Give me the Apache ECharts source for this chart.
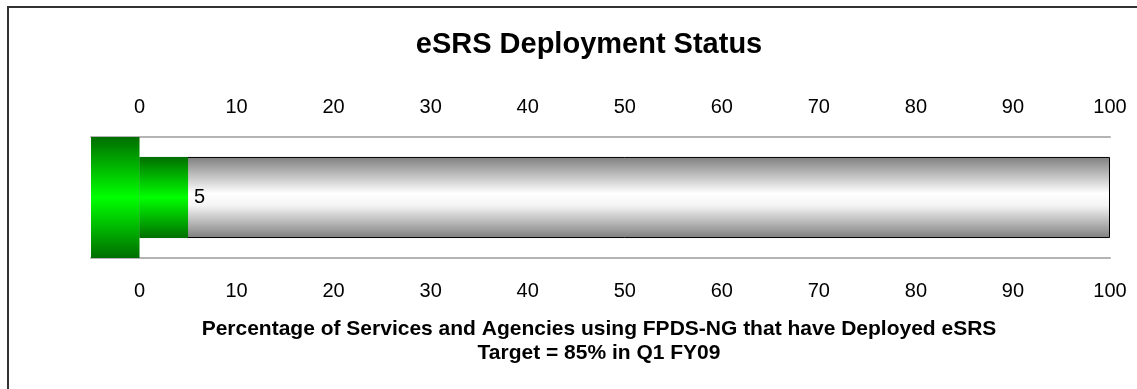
<!DOCTYPE html>
<html>
<head>
<meta charset="utf-8">
<script src="https://cdn.jsdelivr.net/npm/echarts@6/dist/echarts.min.js"></script>
<style>
  html, body { margin: 0; padding: 0; background: #fff; }
  #wrap { position: relative; width: 1137px; height: 389px; overflow: hidden; }
  #chart { position: absolute; left: 0; top: 0; width: 1137px; height: 389px; }
  #frame { position: absolute; left: 7px; top: 6px; width: 1200px; height: 500px;
           border-left: 2px solid #333; border-top: 2px solid #333; pointer-events: none; }
</style>
</head>
<body>
<div id="wrap">
  <div id="chart"></div>
  <div id="frame"></div>
</div>
<script>
// data
var categories = ['eSRS'];
var deployed = [5];        // percent deployed
var fullScale = [100];     // thermometer tube
var bulb = [-5];           // bulb sits left of zero
var tickLabels = [0, 10, 20, 30, 40, 50, 60, 70, 80, 90, 100];

var greenGrad = new echarts.graphic.LinearGradient(0, 0, 0, 1, [
  { offset: 0, color: '#006e00' },
  { offset: 0.5, color: '#00ff00' },
  { offset: 1, color: '#006e00' }
]);
var grayGrad = new echarts.graphic.LinearGradient(0, 0, 0, 1, [
  { offset: 0, color: '#7f7f7f' },
  { offset: 0.45, color: '#ffffff' },
  { offset: 0.6, color: '#f4f4f4' },
  { offset: 1, color: '#7f7f7f' }
]);

var labelFont = { fontFamily: 'Liberation Sans, Arial, sans-serif', fontSize: 20, color: '#000' };

function xAxisCfg(pos, margin) {
  return {
    type: 'value',
    position: pos,
    min: -5,
    max: 100,
    interval: 5,
    axisLine: { show: true, lineStyle: { color: '#b4b4b4', width: 2 } },
    axisTick: { show: false },
    splitLine: { show: false },
    axisLabel: Object.assign({ margin: margin, customValues: tickLabels }, labelFont)
  };
}

var chart = echarts.init(document.getElementById('chart'));
chart.setOption({
  animation: false,
  title: [{
    text: 'eSRS Deployment Status',
    left: 584,
    top: 25,
    textAlign: 'center',
    textStyle: { fontFamily: 'Liberation Sans, Arial, sans-serif', fontSize: 29, fontWeight: 'bold', color: '#000' }
  }, {
    text: 'Percentage of Services and Agencies using FPDS-NG that have Deployed eSRS\nTarget = 85% in Q1 FY09',
    left: 594,
    top: 312,
    textAlign: 'center',
    textStyle: { fontFamily: 'Liberation Sans, Arial, sans-serif', fontSize: 21, fontWeight: 'bold', color: '#000', lineHeight: 24 }
  }],
  grid: { left: 91, right: 27, top: 137, bottom: 131, containLabel: false },
  xAxis: [xAxisCfg('bottom', 23), xAxisCfg('top', 20)],
  yAxis: [
    { type: 'category', data: categories, show: false },
    { type: 'category', data: categories, show: false }
  ],
  series: [
    {
      type: 'bar', xAxisIndex: 0, yAxisIndex: 0,
      data: fullScale, barWidth: '67%', barGap: '-100%',
      itemStyle: { color: grayGrad, borderColor: '#000', borderWidth: 1 },
      silent: true
    },
    {
      type: 'bar', xAxisIndex: 0, yAxisIndex: 0,
      data: deployed, barWidth: '67%', barGap: '-100%',
      itemStyle: { color: greenGrad },
      label: Object.assign({ show: true, position: 'right', distance: 6 }, labelFont)
    },
    {
      type: 'bar', xAxisIndex: 0, yAxisIndex: 1,
      data: bulb, barWidth: '101%',
      itemStyle: { color: greenGrad }
    }
  ]
});
</script>
</body>
</html>
